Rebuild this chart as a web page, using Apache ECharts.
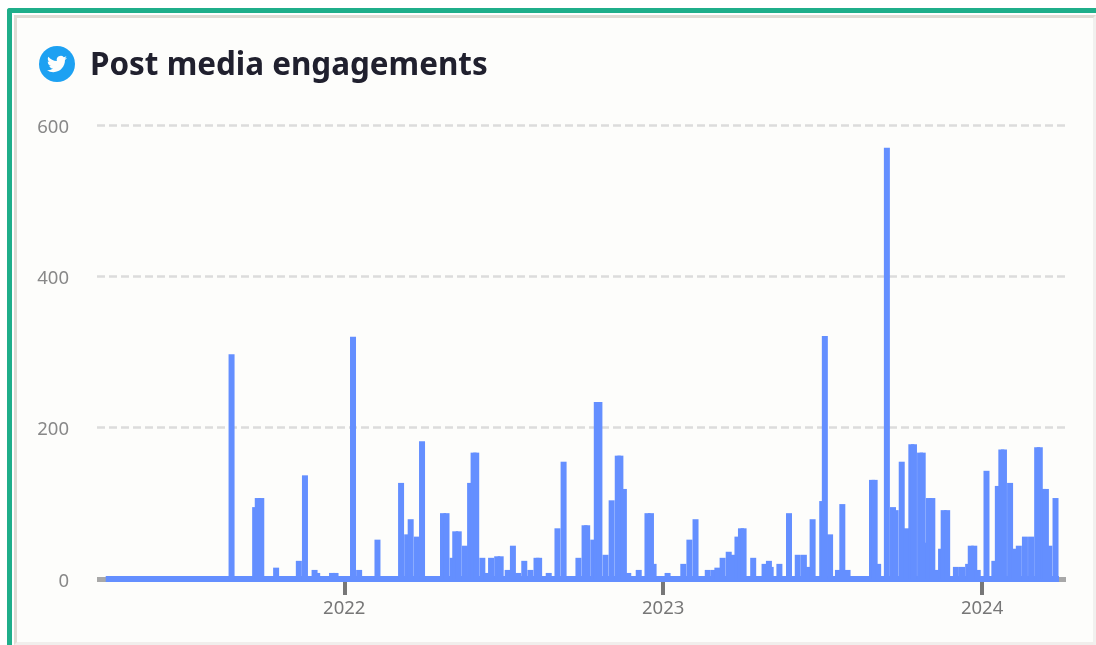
<!DOCTYPE html>
<html><head><meta charset="utf-8">
<style>
html,body{margin:0;padding:0;background:#fff;width:1096px;height:645px;overflow:hidden}
#green{position:absolute;left:7px;top:8px;width:1089px;height:637px;box-sizing:border-box;border-top:5px solid #1fae8a;border-left:5px solid #1fae8a;border-top-left-radius:3px;background:#fff}
#card{position:absolute;left:14px;top:15px;width:1082px;height:630px;box-sizing:border-box;background:#fdfdfb;border-top:3px solid #e0dcd5;border-left:3px solid #e0dcd5;border-right:3px solid #f1f0ee;border-bottom:3px solid #f1eeec}
#main{position:absolute;left:0;top:0;width:1096px;height:645px}
</style>
<script src="https://cdn.jsdelivr.net/npm/echarts@6/dist/echarts.min.js"></script>
</head><body>
<div id="green"></div><div id="card"></div><div id="main"></div>
<script>
const titleText = 'Post media engagements';
const yTicks = [0, 200, 400, 600];
const yearLabels = ['2022', '2023', '2024'];
const yearStartDays = [0, 365, 730];
// days since 2022-01-01 of each dated post bar
const postDays = [-129,-102,-99,-95,-78,-52,-45,-34,-31,-14,-10,10,17,38,65,72,76,83,89,113,117,124,127,131,138,144,148,151,158,163,168,175,179,187,193,199,206,213,220,223,234,244,251,268,275,278,285,289,292,299,306,313,316,320,325,337,347,351,354,370,388,395,402,416,423,427,433,440,445,450,454,457,468,481,486,488,498,509,519,526,531,536,547,550,556,565,570,576,604,607,611,621,628,631,638,643,649,652,659,662,666,669,673,677,683,686,690,700,707,714,717,721,725,735,744,748,752,755,762,767,772,779,786,793,796,800,803,807,814];
const engagements = [297,95,107,107,15,24,137,12,8,8,8,320,12,52,127,59,79,56,182,87,87,28,63,63,44,127,167,167,28,8,28,30,30,12,44,8,24,12,28,28,8,67,155,28,71,71,52,234,234,32,104,163,163,119,8,12,87,87,20,8,20,52,79,12,12,15,28,36,32,56,67,67,28,20,24,16,20,87,32,32,16,79,103,321,59,12,99,12,131,131,20,570,95,91,155,67,178,178,167,167,48,107,107,12,40,91,91,16,16,20,44,44,12,143,24,123,171,171,127,40,44,56,56,174,174,119,119,44,107];
const baselineDays = [-273, 818];
const baselineValues = [0, 0];
const axisRangeDays = [-283, 826];

const birdPath = 'M23.953 4.57a10 10 0 01-2.825.775 4.958 4.958 0 002.163-2.723c-.951.555-2.005.959-3.127 1.184a4.92 4.92 0 00-8.384 4.482C7.69 8.095 4.067 6.13 1.64 3.162a4.822 4.822 0 00-.666 2.475c0 1.71.87 3.213 2.188 4.096a4.904 4.904 0 01-2.228-.616v.06a4.923 4.923 0 003.946 4.827 4.996 4.996 0 01-2.212.085 4.936 4.936 0 004.604 3.417 9.867 9.867 0 01-6.102 2.105c-.39 0-.779-.023-1.17-.067a13.995 13.995 0 007.557 2.209c9.053 0 13.998-7.496 13.998-13.985 0-.21 0-.42-.015-.63A9.935 9.935 0 0024 4.59z';

const chart = echarts.init(document.getElementById('main'), null, {renderer: 'canvas'});
chart.setOption({
  animation: false,
  backgroundColor: 'transparent',
  title: {
    text: titleText, left: 85, top: 46,
    textStyle: {fontFamily: 'Noto Sans', fontWeight: 'bold', fontSize: 31.4, color: '#20202e'}
  },
  graphic: [
    {type: 'circle', z: 50, shape: {cx: 57, cy: 64, r: 18}, style: {fill: '#1da1f2'}},
    {type: 'image', z: 51, style: {
      image: 'data:image/svg+xml;utf8,' + encodeURIComponent('<svg xmlns="http://www.w3.org/2000/svg" viewBox="0 0 24 24" width="24" height="24"><path fill="#fdfdfb" d="' + birdPath + '"/></svg>'),
      x: 47, y: 54, width: 20, height: 20
    }}
  ],
  grid: {left: 97, right: 30, top: 125, bottom: 66, containLabel: false},
  xAxis: {
    type: 'value',
    min: axisRangeDays[0],
    max: axisRangeDays[1],
    splitLine: {show: false},
    axisLine: {show: true, onZero: false, lineStyle: {color: '#a8a8a8', width: 5, cap: 'butt'}},
    axisTick: {show: true, customValues: yearStartDays, length: 16, lineStyle: {color: '#777', width: 4}},
    axisLabel: {
      show: true, customValues: yearStartDays, margin: 20,
      formatter: v => yearLabels[yearStartDays.indexOf(v)],
      fontFamily: 'Noto Sans', fontSize: 18.5, color: '#777'
    }
  },
  yAxis: {
    type: 'value', min: yTicks[0], max: yTicks[yTicks.length - 1], interval: 200,
    axisLine: {show: false}, axisTick: {show: false},
    axisLabel: {
      margin: 28, formatter: '{a|{value}}',
      rich: {a: {padding: [5, 0, 0, 0], fontFamily: 'Noto Sans', fontSize: 18.5, color: '#888'}}
    },
    splitLine: {lineStyle: {color: '#dcdcdc', width: 2.5, type: [8, 4]}}
  },
  series: [
    {
      type: 'line', symbol: 'none', silent: true, z: 3,
      data: baselineDays.map((d, i) => [d, baselineValues[i]]),
      lineStyle: {color: '#648fff', width: 6, cap: 'butt'}
    },
    {
      type: 'bar', barWidth: 6, silent: true, z: 4,
      itemStyle: {color: '#648fff'},
      data: postDays.map((d, i) => [d, engagements[i]])
    }
  ]
});
</script>
</body></html>
